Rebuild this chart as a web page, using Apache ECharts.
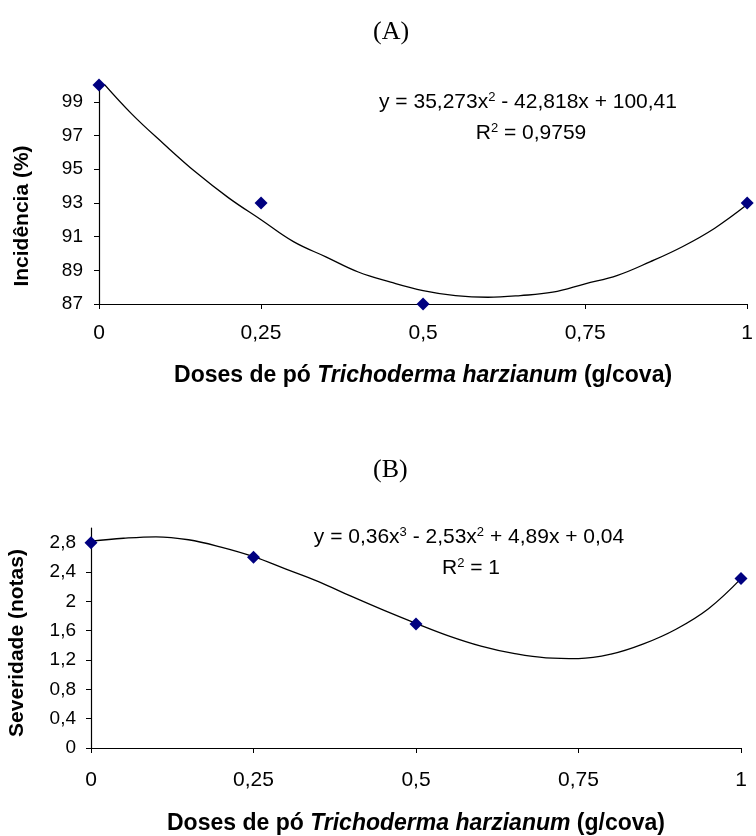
<!DOCTYPE html>
<html>
<head>
<meta charset="utf-8">
<script src="https://cdn.jsdelivr.net/npm/echarts@6/dist/echarts.min.js"></script>
<style>
  html, body { margin: 0; padding: 0; background: #fff; }
  #main { width: 756px; height: 836px; }
</style>
</head>
<body>
<div id="main"></div>
<script>
// observed doses (g/cova)
const doses = [0, 0.25, 0.5, 1]
const incidencia = [100, 93, 87, 93]
const severidade = [2.8, 2.6, 1.69, 2.31]

// trend lines, every 0.05
const trendX = [0, 0.05, 0.1, 0.15, 0.2, 0.25, 0.3, 0.35, 0.4, 0.45, 0.5,
  0.55, 0.6, 0.65, 0.7, 0.75, 0.8, 0.85, 0.9, 0.95, 1]
const trendA = [100.4, 98.3, 96.5, 94.8, 93.3, 92.0, 90.7, 89.8, 88.9, 88.3, 87.8,
  87.5, 87.4, 87.5, 87.7, 88.2, 88.7, 89.5, 90.4, 91.5, 92.9]
const trendB = [2.82, 2.86, 2.88, 2.84, 2.74, 2.61, 2.44, 2.27, 2.07, 1.88, 1.70,
  1.53, 1.39, 1.29, 1.23, 1.22, 1.28, 1.42, 1.62, 1.90, 2.31]

const xTicks = ['0', '0,25', '0,5', '0,75', '1']

const chart = echarts.init(document.getElementById('main'), null, { renderer: 'canvas' })

const comma = v => String(Math.round(v * 100) / 100).replace('.', ',')
const pairs = (xs, ys) => xs.map((x, i) => [x, ys[i]])

const xName = '{b|Doses de pó }{i|Trichoderma harzianum}{b| (g/cova)}'
const xNameStyle = {
  rich: {
    b: { fontFamily: 'Liberation Sans', fontWeight: 'bold', fontSize: 23, color: '#000' },
    i: { fontFamily: 'Liberation Sans', fontWeight: 'bold', fontStyle: 'italic', fontSize: 23, color: '#000' }
  }
}

function xAxisFor(gridIndex, labelMargin, gap) {
  return {
    type: 'value', gridIndex, min: 0, max: 1, interval: 0.25,
    name: xName, nameLocation: 'middle', nameGap: gap, nameTextStyle: xNameStyle,
    axisLine: { lineStyle: { color: '#000', width: 1.2 } },
    axisTick: { show: true, length: 5, lineStyle: { color: '#000' } },
    splitLine: { show: false },
    axisLabel: {
      margin: labelMargin, fontSize: 21, color: '#000', fontFamily: 'Liberation Sans',
      formatter: v => xTicks[Math.round(v * 4)]
    }
  }
}

const eqRich = {
  t: { fontSize: 21, fontFamily: 'Liberation Sans', color: '#000' },
  s: { fontSize: 13, fontFamily: 'Liberation Sans', color: '#000', padding: [0, 0, 9, 0] }
}
const eq = (text, x, y) => ({
  type: 'text', x, y,
  style: { text, align: 'center', verticalAlign: 'middle', rich: eqRich, fill: '#000' }
})
const yTitle = (text, x, y) => ({
  type: 'text', x, y, rotation: Math.PI / 2,
  style: { text, align: 'center', verticalAlign: 'middle', fill: '#000',
    fontFamily: 'Liberation Sans', fontWeight: 'bold', fontSize: 21 }
})

const panelTitle = { fontFamily: 'Liberation Serif', fontWeight: 'normal', fontSize: 26, color: '#000' }

const option = {
  animation: false,
  title: [
    { text: '(A)', left: 368, top: 14, textStyle: panelTitle },
    { text: '(B)', left: 368, top: 452, textStyle: panelTitle }
  ],
  grid: [
    { left: 99, right: 6, top: 85, height: 219 },
    { left: 91, right: 15, top: 528, height: 222 }
  ],
  xAxis: [xAxisFor(0, 19, 60), xAxisFor(1, 22, 64)],
  yAxis: [
    {
      type: 'value', gridIndex: 0, min: 87, max: 100, interval: 2,
      axisLine: { show: true, lineStyle: { color: '#000', width: 1.2 } },
      axisTick: { show: true, length: 5, lineStyle: { color: '#000' } },
      splitLine: { show: false },
      axisLabel: { margin: 16, fontSize: 19, color: '#000', fontFamily: 'Liberation Sans', showMaxLabel: false }
    },
    {
      type: 'value', gridIndex: 1, min: 0, max: 3, interval: 0.4,
      axisLine: { show: true, lineStyle: { color: '#000', width: 1.2 } },
      axisTick: { show: true, length: 5, lineStyle: { color: '#000' } },
      splitLine: { show: false },
      axisLabel: { margin: 15, fontSize: 19, color: '#000', fontFamily: 'Liberation Sans', showMaxLabel: false, formatter: comma }
    }
  ],
  graphic: [
    yTitle('Incidência (%)', 22, 216),
    yTitle('Severidade (notas)', 17, 643),
    eq('{t|y = 35,273x}{s|2}{t| - 42,818x + 100,41}', 528, 102),
    eq('{t|R}{s|2}{t| = 0,9759}', 531, 133),
    eq('{t|y = 0,36x}{s|3}{t| - 2,53x}{s|2}{t| + 4,89x + 0,04}', 469, 537),
    eq('{t|R}{s|2}{t| = 1}', 471, 568)
  ],
  series: [
    { type: 'line', xAxisIndex: 0, yAxisIndex: 0, data: pairs(trendX, trendA), smooth: 0.4,
      showSymbol: false, lineStyle: { color: '#000', width: 1.3 }, z: 2 },
    { type: 'scatter', xAxisIndex: 0, yAxisIndex: 0, data: pairs(doses, incidencia),
      symbol: 'diamond', symbolSize: 13, itemStyle: { color: '#000080', opacity: 1 }, z: 3 },
    { type: 'line', xAxisIndex: 1, yAxisIndex: 1, data: pairs(trendX, trendB), smooth: 0.4,
      showSymbol: false, lineStyle: { color: '#000', width: 1.3 }, z: 2 },
    { type: 'scatter', xAxisIndex: 1, yAxisIndex: 1, data: pairs(doses, severidade),
      symbol: 'diamond', symbolSize: 13, itemStyle: { color: '#000080', opacity: 1 }, z: 3 }
  ]
}

chart.setOption(option)
</script>
</body>
</html>
